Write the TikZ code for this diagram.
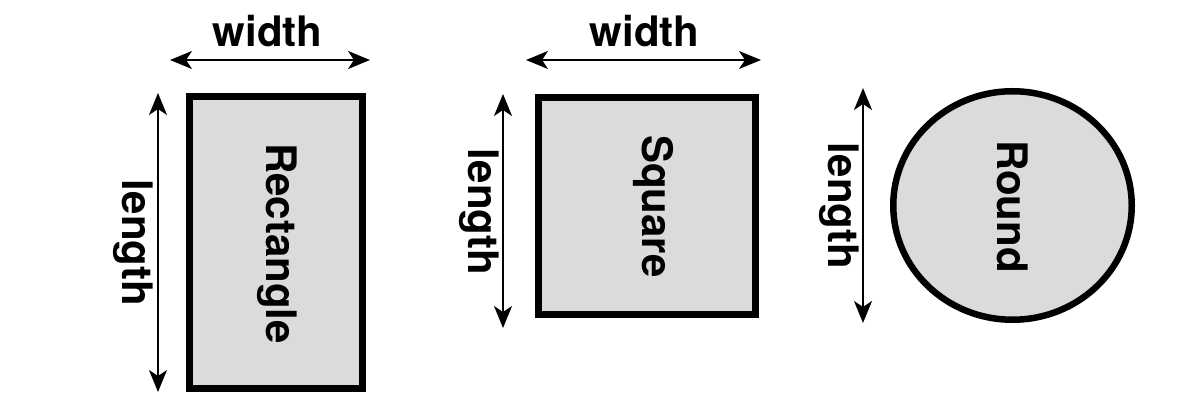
\documentclass[tikz,border=0pt]{standalone}
\usepackage{fontspec}
\setmainfont{TeX Gyre Heros}
\usepackage{tikz}
\usetikzlibrary{positioning,arrows.meta,shapes.geometric}
\definecolor{shapefill}{RGB}{217,219,221}

\begin{document}
\begin{tikzpicture}[
  x=1pt, y=-1pt,
  shp/.style={draw, line width=6.5pt, fill=shapefill, inner sep=0pt},
  lbl/.style={font=\fontsize{42}{42}\bfseries\selectfont, inner sep=0pt},
  dim/.style={{Stealth[length=22pt, width=18pt, inset=6pt]}-{Stealth[length=22pt, width=18pt, inset=6pt]}, line width=1.8pt}
]
  \useasboundingbox (0,0) rectangle (1190,411);
  \node[shp, rectangle, minimum width=173pt, minimum height=292pt] (rect) at (276,242.5) {};
  \node[shp, rectangle, minimum width=217pt, minimum height=217pt] (sq) at (647,206) {};
  \node[shp, ellipse, minimum width=238.5pt, minimum height=228.5pt] (rnd) at (1012.5,205.5) {};
  \node[lbl, rotate=-90] (rectname) at (277.5,243.5) {Rectangle};
  \node[lbl, rotate=-90] (sqname) at (653.5,206.5) {Square};
  \node[lbl, rotate=-90] (rndname) at (1012.5,206.5) {Round};
  \coordinate (rw1) at (170,60);
  \coordinate (rw2) at (370,60);
  \coordinate (rl1) at (158,93);
  \coordinate (rl2) at (158,392);
  \coordinate (sw1) at (526,60);
  \coordinate (sw2) at (761,60);
  \coordinate (sl1) at (503,94);
  \coordinate (sl2) at (503,328);
  \coordinate (cl1) at (863,88);
  \coordinate (cl2) at (863,323);
  \node[lbl, anchor=base] (rwidth) at (267.5,47) {width};
  \node[lbl, anchor=base] (swidth) at (644.5,47) {width};
  \node[lbl, rotate=-90] (rlength) at (133.5,243) {length};
  \node[lbl, rotate=-90] (slength) at (479,212) {length};
  \node[lbl, rotate=-90] (clength) at (839,206) {length};
  \draw[dim] (rw1) -- (rw2);
  \draw[dim] (rl1) -- (rl2);
  \draw[dim] (sw1) -- (sw2);
  \draw[dim] (sl1) -- (sl2);
  \draw[dim] (cl1) -- (cl2);
\end{tikzpicture}
\end{document}
